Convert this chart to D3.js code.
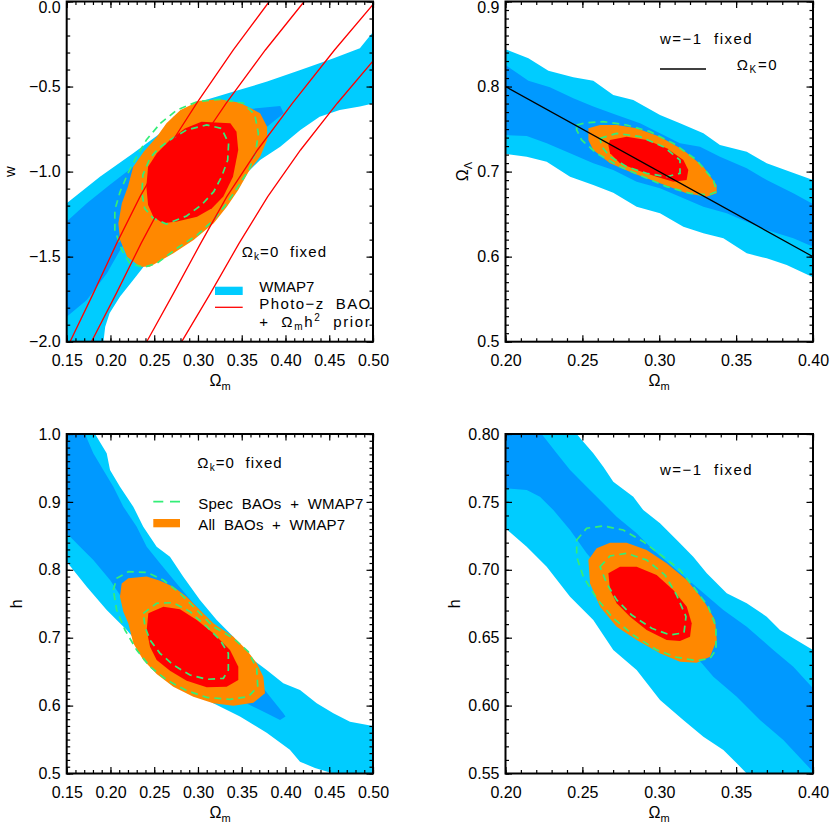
<!DOCTYPE html>
<html><head><meta charset="utf-8">
<script src="https://cdn.jsdelivr.net/npm/d3@7"></script>
<style>
body{margin:0;background:#fff}
svg{display:block}
text{font-family:"Liberation Sans",Arial,sans-serif;white-space:pre}
</style></head><body>
<svg id="c" width="830" height="822"></svg>
<script>
// ---------------- tick labels ----------------
const tlXTicks=[0.15,0.20,0.25,0.30,0.35,0.40,0.45,0.50];
const tlYTicks=[-2.0,-1.5,-1.0,-0.5,0.0];
const trXTicks=[0.20,0.25,0.30,0.35,0.40];
const trYTicks=[0.5,0.6,0.7,0.8,0.9];
const blXTicks=[0.15,0.20,0.25,0.30,0.35,0.40,0.45,0.50];
const blYTicks=[0.5,0.6,0.7,0.8,0.9,1.0];
const brXTicks=[0.20,0.25,0.30,0.35,0.40];
const brYTicks=[0.55,0.60,0.65,0.70,0.75,0.80];

// ---------------- top-left: Omega_m vs w ----------------
const tlWmap2=[[0.15,-1.186],[0.188,-1.030],[0.226,-0.892],[0.257,-0.775],[0.272,-0.677],[0.302,-0.589],[0.340,-0.530],[0.379,-0.471],[0.417,-0.403],[0.455,-0.334],[0.485,-0.275],[0.50,-0.18],[0.50,-0.60],[0.485,-0.618],[0.462,-0.638],[0.439,-0.677],[0.417,-0.755],[0.394,-0.854],[0.371,-0.932],[0.348,-1.049],[0.325,-1.206],[0.302,-1.343],[0.280,-1.422],[0.257,-1.480],[0.241,-1.539],[0.226,-1.637],[0.211,-1.735],[0.199,-1.833],[0.194,-1.912],[0.192,-2.0],[0.15,-2.0]];
const tlWmap1=[[0.15,-1.294],[0.173,-1.186],[0.199,-1.079],[0.226,-0.971],[0.257,-0.834],[0.287,-0.736],[0.318,-0.667],[0.348,-0.638],[0.379,-0.622],[0.394,-0.614],[0.398,-0.657],[0.379,-0.736],[0.363,-0.814],[0.340,-1.0],[0.302,-1.206],[0.264,-1.284],[0.226,-1.343],[0.211,-1.461],[0.196,-1.598],[0.173,-1.755],[0.15,-1.853]];
const tlAll2=[[0.280,-0.638],[0.302,-0.583],[0.325,-0.575],[0.348,-0.595],[0.371,-0.657],[0.379,-0.736],[0.379,-0.814],[0.371,-0.912],[0.359,-0.991],[0.346,-1.108],[0.333,-1.206],[0.318,-1.304],[0.295,-1.402],[0.272,-1.480],[0.245,-1.559],[0.234,-1.559],[0.219,-1.500],[0.211,-1.402],[0.209,-1.304],[0.213,-1.186],[0.220,-1.088],[0.226,-0.971],[0.238,-0.883],[0.253,-0.795],[0.264,-0.716]];
const tlAll1=[[0.268,-0.814],[0.285,-0.746],[0.304,-0.707],[0.337,-0.716],[0.344,-0.765],[0.346,-0.873],[0.340,-1.030],[0.329,-1.147],[0.316,-1.216],[0.299,-1.265],[0.276,-1.294],[0.260,-1.304],[0.249,-1.265],[0.243,-1.196],[0.241,-1.088],[0.243,-0.971],[0.253,-0.892]];
const tlSpec2=[[0.257,-0.716],[0.276,-0.638],[0.299,-0.589],[0.325,-0.575],[0.352,-0.598],[0.365,-0.667],[0.369,-0.775],[0.366,-0.883],[0.359,-0.981],[0.346,-1.088],[0.333,-1.186],[0.318,-1.284],[0.299,-1.373],[0.276,-1.451],[0.253,-1.539],[0.238,-1.563],[0.222,-1.539],[0.213,-1.461],[0.205,-1.343],[0.205,-1.226],[0.211,-1.118],[0.220,-1.010],[0.230,-0.912],[0.241,-0.814]];
const tlSpec1=[[0.268,-0.814],[0.287,-0.755],[0.310,-0.726],[0.327,-0.746],[0.335,-0.834],[0.334,-0.932],[0.327,-1.030],[0.318,-1.118],[0.304,-1.196],[0.287,-1.261],[0.264,-1.308],[0.249,-1.275],[0.239,-1.216],[0.236,-1.128],[0.237,-1.020],[0.245,-0.922],[0.255,-0.863]];
const tlPhoto1=[[0.1538,-2.0],[0.1804,-1.716],[0.2071,-1.422],[0.2338,-1.147],[0.2643,-0.873],[0.2986,-0.598],[0.3404,-0.285],[0.3815,0.0]];
const tlPhoto2=[[0.1783,-2.0],[0.2067,-1.716],[0.2350,-1.422],[0.2635,-1.147],[0.2960,-0.873],[0.3323,-0.598],[0.3770,-0.285],[0.4214,0.0]];
const tlPhoto3=[[0.2414,-2.0],[0.272,-1.716],[0.303,-1.422],[0.333,-1.147],[0.368,-0.873],[0.408,-0.598],[0.456,-0.285],[0.503,0.0]];
const tlPhoto4=[[0.2814,-2.0],[0.3142,-1.716],[0.3469,-1.422],[0.3797,-1.147],[0.4172,-0.873],[0.4592,-0.598],[0.5107,-0.285],[0.5614,0.0]];

// ---------------- top-right: Omega_m vs Omega_Lambda ----------------
const trWmap2=[[0.2,0.8438],[0.2149,0.8332],[0.2279,0.8187],[0.2441,0.8108],[0.2571,0.8069],[0.2701,0.7901],[0.2831,0.7842],[0.3005,0.7666],[0.3135,0.7568],[0.3287,0.7450],[0.3395,0.7313],[0.3569,0.7234],[0.3699,0.7097],[0.3851,0.6999],[0.40,0.6901],[0.40,0.5757],[0.3829,0.5902],[0.3699,0.5980],[0.3569,0.6039],[0.3417,0.6215],[0.3287,0.6274],[0.3157,0.6353],[0.3005,0.6509],[0.2853,0.6588],[0.2701,0.6752],[0.2571,0.6842],[0.2420,0.6940],[0.2268,0.7117],[0.2138,0.7176],[0.2,0.7207]];
const trWmap1=[[0.2,0.8253],[0.2149,0.8069],[0.2289,0.7991],[0.2441,0.7861],[0.2571,0.7764],[0.2723,0.7666],[0.2875,0.7568],[0.3005,0.7450],[0.3135,0.7332],[0.3265,0.7293],[0.3395,0.7176],[0.3569,0.7039],[0.3699,0.6901],[0.3872,0.6745],[0.40,0.6619],[0.40,0.6117],[0.3872,0.6215],[0.3699,0.6313],[0.3569,0.6411],[0.3439,0.6509],[0.3287,0.6588],[0.3135,0.6705],[0.3005,0.6803],[0.2853,0.6882],[0.2701,0.7019],[0.2571,0.7097],[0.2420,0.7215],[0.2268,0.7332],[0.2138,0.7419],[0.2,0.7430]];
const trAll2=[[0.2539,0.7509],[0.2615,0.7548],[0.2723,0.7548],[0.2853,0.7509],[0.3005,0.7411],[0.3157,0.7254],[0.3287,0.7058],[0.3373,0.6842],[0.3373,0.6745],[0.3308,0.6705],[0.3178,0.6745],[0.3005,0.6862],[0.2831,0.6980],[0.2680,0.7097],[0.2571,0.7254],[0.2539,0.7372]];
const trAll1=[[0.2680,0.7372],[0.2788,0.7411],[0.2918,0.7372],[0.3048,0.7274],[0.3157,0.7136],[0.3189,0.7019],[0.3178,0.6901],[0.3092,0.6882],[0.2983,0.6940],[0.2853,0.7019],[0.2745,0.7097],[0.2680,0.7215],[0.2669,0.7313]];
const trSpec2=[[0.2463,0.7548],[0.2528,0.7575],[0.2636,0.7587],[0.2788,0.7548],[0.2940,0.7470],[0.3092,0.7332],[0.3243,0.7136],[0.3352,0.6901],[0.3373,0.6764],[0.3319,0.6725],[0.3200,0.6745],[0.3048,0.6823],[0.2897,0.6940],[0.2745,0.7058],[0.2593,0.7215],[0.2495,0.7372],[0.2463,0.7489]];
const trSpec1=[[0.2615,0.7391],[0.2723,0.7450],[0.2875,0.7411],[0.3027,0.7293],[0.3135,0.7136],[0.3135,0.6980],[0.3048,0.6940],[0.2918,0.6980],[0.2788,0.7058],[0.2680,0.7176],[0.2626,0.7293]];
const trFlatOm=[0.2,0.4];
const trFlatOL=[0.8,0.6];

// ---------------- bottom-left: Omega_m vs h ----------------
const blWmap2=[[0.15,1.0],[0.1824,1.0],[0.1957,0.9716],[0.1995,0.947],[0.2109,0.9224],[0.2261,0.893],[0.2375,0.8635],[0.2528,0.834],[0.268,0.8193],[0.2832,0.7898],[0.3023,0.7555],[0.3214,0.7261],[0.3404,0.7015],[0.3633,0.6672],[0.3785,0.6524],[0.3975,0.6328],[0.4166,0.6230],[0.4357,0.6034],[0.4547,0.5886],[0.4737,0.5763],[0.5,0.570],[0.5,0.5],[0.4547,0.5],[0.4337,0.508],[0.4166,0.5174],[0.405,0.535],[0.3785,0.56],[0.348,0.584],[0.3175,0.6034],[0.2871,0.6278],[0.2643,0.6524],[0.2414,0.677],[0.2186,0.7113],[0.1957,0.7408],[0.1729,0.7751],[0.15,0.812]];
const blWmap1=[[0.15,1.0],[0.1709,1.0],[0.1804,0.9716],[0.1918,0.947],[0.2033,0.9224],[0.2147,0.893],[0.23,0.8635],[0.2414,0.834],[0.2566,0.8096],[0.2757,0.78],[0.2947,0.7507],[0.3175,0.72],[0.3404,0.6868],[0.3671,0.6377],[0.3975,0.5886],[0.40,0.584],[0.3938,0.5788],[0.3785,0.5886],[0.3633,0.5984],[0.3175,0.6278],[0.2871,0.6573],[0.2566,0.6868],[0.2338,0.7212],[0.2147,0.7555],[0.1995,0.785],[0.1804,0.8144],[0.1652,0.834],[0.15,0.8537]];
const blAll2=[[0.2128,0.78],[0.2204,0.7875],[0.2414,0.79],[0.2566,0.784],[0.2718,0.7751],[0.2871,0.7604],[0.3023,0.7408],[0.3175,0.7212],[0.3404,0.7015],[0.3557,0.6819],[0.3671,0.6623],[0.3747,0.6426],[0.3766,0.6181],[0.3633,0.6043],[0.3404,0.5999],[0.3175,0.6034],[0.2947,0.6131],[0.2718,0.6278],[0.2528,0.6465],[0.2375,0.6672],[0.2261,0.6917],[0.2204,0.7212],[0.2147,0.7383],[0.2109,0.7604]];
const blAll1=[[0.2433,0.7359],[0.2604,0.7457],[0.2795,0.7418],[0.2986,0.7261],[0.3175,0.7065],[0.3366,0.6819],[0.3461,0.6573],[0.3461,0.6377],[0.3328,0.6278],[0.31,0.6269],[0.2871,0.6367],[0.268,0.6514],[0.2528,0.6672],[0.2452,0.6868],[0.2414,0.7113]];
const blSpec2=[[0.2033,0.7703],[0.2071,0.7875],[0.2204,0.7972],[0.2414,0.7963],[0.2604,0.785],[0.2795,0.7654],[0.2986,0.7408],[0.3175,0.7162],[0.3404,0.6991],[0.3575,0.6794],[0.3671,0.655],[0.3683,0.6278],[0.3575,0.6131],[0.3366,0.6092],[0.31,0.6122],[0.2871,0.622],[0.2643,0.6377],[0.2452,0.6573],[0.23,0.6819],[0.2166,0.7113],[0.2071,0.7408]];
const blSpec1=[[0.2375,0.7359],[0.2528,0.7507],[0.2718,0.7516],[0.2909,0.7383],[0.31,0.7162],[0.3252,0.6966],[0.3347,0.677],[0.3347,0.6524],[0.329,0.6402],[0.31,0.6387],[0.2909,0.6451],[0.2718,0.6598],[0.2566,0.677],[0.2452,0.6966],[0.2395,0.7162]];

// ---------------- bottom-right: Omega_m vs h (w=-1) ----------------
const brWmap2=[[0.2,0.8],[0.2463,0.8],[0.2506,0.7943],[0.2571,0.7858],[0.2636,0.7759],[0.2701,0.7649],[0.2831,0.7538],[0.2896,0.744],[0.3005,0.7342],[0.3135,0.7195],[0.3221,0.7096],[0.3309,0.6974],[0.3439,0.6827],[0.3569,0.6753],[0.3699,0.6655],[0.3785,0.6557],[0.3872,0.6496],[0.4,0.641],[0.4,0.55],[0.3569,0.55],[0.3504,0.5575],[0.3417,0.5673],[0.3287,0.5771],[0.3156,0.5894],[0.3005,0.6041],[0.2853,0.6262],[0.2701,0.6409],[0.2571,0.663],[0.242,0.6802],[0.2268,0.7023],[0.2138,0.717],[0.2,0.7306]];
const brWmap1=[[0.2,0.8],[0.2235,0.8],[0.2333,0.7858],[0.242,0.7735],[0.2528,0.7612],[0.2615,0.7514],[0.2723,0.7391],[0.2853,0.7269],[0.2961,0.7146],[0.3113,0.6999],[0.3265,0.6851],[0.3417,0.6704],[0.3569,0.6581],[0.3742,0.641],[0.3872,0.6287],[0.4,0.6127],[0.4,0.5513],[0.3807,0.5747],[0.3655,0.5894],[0.3504,0.6066],[0.3352,0.6213],[0.3221,0.6385],[0.3048,0.6532],[0.2918,0.6655],[0.2788,0.6802],[0.2658,0.6949],[0.2528,0.7121],[0.242,0.7293],[0.2311,0.744],[0.2224,0.7538],[0.2138,0.7588],[0.2,0.76]];
const brAll2=[[0.2539,0.7072],[0.2593,0.7158],[0.268,0.72],[0.2788,0.72],[0.2918,0.7146],[0.3048,0.7048],[0.3179,0.6925],[0.3287,0.6778],[0.3363,0.663],[0.3374,0.6483],[0.333,0.636],[0.3244,0.6316],[0.3135,0.6323],[0.3005,0.6385],[0.2853,0.6483],[0.2723,0.6581],[0.2615,0.6728],[0.255,0.69]];
const brAll1=[[0.2669,0.6974],[0.2745,0.7023],[0.2853,0.7023],[0.2983,0.6962],[0.3091,0.6851],[0.3179,0.6728],[0.3211,0.6606],[0.32,0.6507],[0.3135,0.6476],[0.3048,0.6483],[0.2918,0.6557],[0.281,0.6655],[0.2723,0.6753],[0.268,0.6851]];
const brSpec2=[[0.2463,0.7219],[0.2528,0.7306],[0.2636,0.7323],[0.2766,0.7293],[0.2896,0.7207],[0.3026,0.7096],[0.3135,0.6999],[0.3221,0.6876],[0.3319,0.6728],[0.3369,0.6581],[0.3369,0.641],[0.333,0.6348],[0.3244,0.6331],[0.3113,0.6356],[0.2983,0.641],[0.2831,0.652],[0.2701,0.6643],[0.2593,0.679],[0.2506,0.6949],[0.2463,0.7096]];
const brSpec1=[[0.2615,0.7023],[0.268,0.7102],[0.2788,0.7121],[0.2918,0.7072],[0.3037,0.6962],[0.3113,0.6814],[0.3174,0.6655],[0.3161,0.6537],[0.307,0.652],[0.2951,0.6569],[0.2821,0.6667],[0.2723,0.6778],[0.2658,0.69]];

// ---------------- drawing ----------------
const C={cyan:"#00CCFF",blue:"#0099FF",orange:"#FF8800",red:"#FF0000",green:"#33EE77",line:"#FF0000"};
const svg=d3.select("#c");
const defs=svg.append("defs");

const panels=[
 {id:"tl",box:[66.7,373,1.5,341.7],xd:[0.15,0.50],yd:[-2.0,0.0],xt:tlXTicks,yt:tlYTicks,xm:0.01,ym:0.1,yf:".1f",
  fills:[[tlWmap2,C.cyan],[tlWmap1,C.blue],[tlAll2,C.orange],[tlAll1,C.red]],dashes:[tlSpec2,tlSpec1],
  lines:[[tlPhoto1,C.line],[tlPhoto2,C.line],[tlPhoto3,C.line],[tlPhoto4,C.line]]},
 {id:"tr",box:[505.5,813,1.5,341.7],xd:[0.20,0.40],yd:[0.5,0.9],xt:trXTicks,yt:trYTicks,xm:0.01,ym:0.01,yf:".1f",
  fills:[[trWmap2,C.cyan],[trWmap1,C.blue],[trAll2,C.orange],[trAll1,C.red]],dashes:[trSpec2,trSpec1],
  lines:[[trFlatOm.map((m,i)=>[m,trFlatOL[i]]),"#000"]]},
 {id:"bl",box:[66.7,373,434,773.5],xd:[0.15,0.50],yd:[0.5,1.0],xt:blXTicks,yt:blYTicks,xm:0.01,ym:0.01,yf:".1f",
  fills:[[blWmap2,C.cyan],[blWmap1,C.blue],[blAll2,C.orange],[blAll1,C.red]],dashes:[blSpec2,blSpec1],lines:[]},
 {id:"br",box:[505.5,813,434,773.5],xd:[0.20,0.40],yd:[0.55,0.80],xt:brXTicks,yt:brYTicks,xm:0.01,ym:0.01,yf:".2f",
  fills:[[brWmap2,C.cyan],[brWmap1,C.blue],[brAll2,C.orange],[brAll1,C.red]],dashes:[brSpec2,brSpec1],lines:[]}
];

function minorVals(d,step){const n=Math.round((d[1]-d[0])/step);return d3.range(n+1).map(i=>+(d[0]+i*step).toFixed(5));}

panels.forEach(p=>{
  const [x0,x1,y0,y1]=p.box;
  const x=d3.scaleLinear().domain(p.xd).range([x0,x1]);
  const y=d3.scaleLinear().domain(p.yd).range([y1,y0]);
  defs.append("clipPath").attr("id","clip-"+p.id).append("rect").attr("x",x0).attr("y",y0).attr("width",x1-x0).attr("height",y1-y0);
  const g=svg.append("g");
  const plot=g.append("g").attr("clip-path","url(#clip-"+p.id+")");
  const line=d3.line().x(d=>x(d[0])).y(d=>y(d[1]));
  const closed=d3.line().x(d=>x(d[0])).y(d=>y(d[1])).curve(d3.curveLinearClosed);
  p.fills.forEach(([d,c])=>plot.append("path").attr("d",closed(d)).attr("fill",c));
  p.dashes.forEach(d=>plot.append("path").attr("d",closed(d)).attr("fill","none").attr("stroke",C.green).attr("stroke-width",1.7).attr("stroke-dasharray","7,5"));
  p.lines.forEach(([d,c])=>plot.append("path").attr("d",line(d)).attr("fill","none").attr("stroke",c).attr("stroke-width",1.3));

  const xMin=minorVals(p.xd,p.xm), yMin=minorVals(p.yd,p.ym);
  const fmtX=d3.format(".2f"), fmtY=d3.format(p.yf);
  const style=s=>{s.select(".domain").remove();s.attr("font-size",16).attr("font-family","Liberation Sans, Arial, sans-serif");s.selectAll("line").attr("stroke-width",1.2);};
  g.append("g").attr("transform",`translate(0,${y1})`).call(d3.axisBottom(x).tickValues(xMin).tickSize(-3.5).tickSizeOuter(0).tickFormat("")).call(style);
  g.append("g").attr("transform",`translate(0,${y1})`).call(d3.axisBottom(x).tickValues(p.xt).tickSize(-6.5).tickSizeOuter(0).tickPadding(13).tickFormat(fmtX)).call(style);
  g.append("g").attr("transform",`translate(0,${y0})`).call(d3.axisTop(x).tickValues(xMin).tickSize(-3.5).tickSizeOuter(0).tickFormat("")).call(style);
  g.append("g").attr("transform",`translate(0,${y0})`).call(d3.axisTop(x).tickValues(p.xt).tickSize(-6.5).tickSizeOuter(0).tickFormat("")).call(style);
  g.append("g").attr("transform",`translate(${x0},0)`).call(d3.axisLeft(y).tickValues(yMin).tickSize(-3.5).tickSizeOuter(0).tickFormat("")).call(style);
  const yl=g.append("g").attr("transform",`translate(${x0},0)`).call(d3.axisLeft(y).tickValues(p.yt).tickSize(-6.5).tickSizeOuter(0).tickPadding(6).tickFormat(fmtY)).call(style);
  // keep the top label inside the picture
  yl.selectAll(".tick text").each(function(v){const yy=y(v);if(yy<12)d3.select(this).attr("dy",(12.5-yy)+"px");});
  g.append("g").attr("transform",`translate(${x1},0)`).call(d3.axisRight(y).tickValues(yMin).tickSize(-3.5).tickSizeOuter(0).tickFormat("")).call(style);
  g.append("g").attr("transform",`translate(${x1},0)`).call(d3.axisRight(y).tickValues(p.yt).tickSize(-6.5).tickSizeOuter(0).tickFormat("")).call(style);
  g.append("rect").attr("x",x0).attr("y",y0).attr("width",x1-x0).attr("height",y1-y0).attr("fill","none").attr("stroke","#000").attr("stroke-width",2);
});

// ---------- text helpers ----------
function txt(x,y,parts,size,anchor){
  const t=svg.append("text").attr("x",x).attr("y",y).attr("font-size",size).attr("text-anchor",anchor||"start");
  let shift=0;
  parts.forEach(pt=>{
    const s=typeof pt==="string"?{t:pt,s:0}:pt;
    const ts=t.append("tspan").text(s.t);
    const want=s.s||0;
    if(want!==shift){ts.attr("dy",want-shift);shift=want;}
    if(s.f)ts.attr("font-size",s.f);
  });
  return t;
}
function fit(t,target){const n=t.text().length;const w=t.node().getComputedTextLength();if(n>1)t.attr("letter-spacing",(target-w)/(n-1));}
function ytitle(x,y,parts,size){
  const t=txt(0,0,parts,size||16,"middle");t.attr("transform",`translate(${x},${y}) rotate(-90)`);return t;
}

// axis titles
[[220,385.5],[659,385.5],[220,817.5],[659,817.5]].forEach(([cx,cy])=>txt(cx,cy,["Ω",{t:"m",s:4,f:11}],16,"middle"));
ytitle(15,171.6,["w"],15);
ytitle(468,171.6,["Ω",{t:"Λ",s:4,f:11}]);
ytitle(21.7,603.7,["h"]);
ytitle(460,603.7,["h"]);

// legends & annotations
fit(txt(241.7,256.5,["Ω",{t:"k",s:3,f:10},{t:"=0  fixed",s:0}],15),84.3);
svg.append("rect").attr("x",215).attr("y",286.7).attr("width",27.7).attr("height",8.3).attr("fill",C.cyan);
svg.append("line").attr("x1",215).attr("x2",242.7).attr("y1",307.3).attr("y2",307.3).attr("stroke",C.line).attr("stroke-width",1.3);
fit(txt(259.3,291.5,["WMAP7"],15),55);
fit(txt(259.3,308.5,["Photo−z  BAO"],15),111);
fit(txt(259.3,326.5,["+  Ω",{t:"m",s:3,f:10},{t:"h",s:0},{t:"2",s:-6,f:10},{t:"  prior",s:0}],15),110.5);

fit(txt(660,43.5,["w=−1  fixed"],15),91.7);
svg.append("line").attr("x1",660).attr("x2",706).attr("y1",69).attr("y2",69).attr("stroke","#000").attr("stroke-width",1.3);
fit(txt(736.7,70,["Ω",{t:"K",s:3,f:10},{t:"=0",s:0}],15),40);

fit(txt(197.3,467.5,["Ω",{t:"k",s:3,f:10},{t:"=0  fixed",s:0}],15),84.4);
svg.append("line").attr("x1",153.3).attr("x2",180).attr("y1",501.7).attr("y2",501.7).attr("stroke",C.green).attr("stroke-width",1.8).attr("stroke-dasharray","10,6.7");
svg.append("rect").attr("x",153.3).attr("y",519).attr("width",26.7).attr("height",8.3).attr("fill",C.orange);
fit(txt(198.3,509,["Spec  BAOs  +  WMAP7"],15),165);
fit(txt(198.3,529.5,["All  BAOs  +  WMAP7"],15),146.7);

fit(txt(660,475,["w=−1  fixed"],15),91.7);
</script>
</body></html>
